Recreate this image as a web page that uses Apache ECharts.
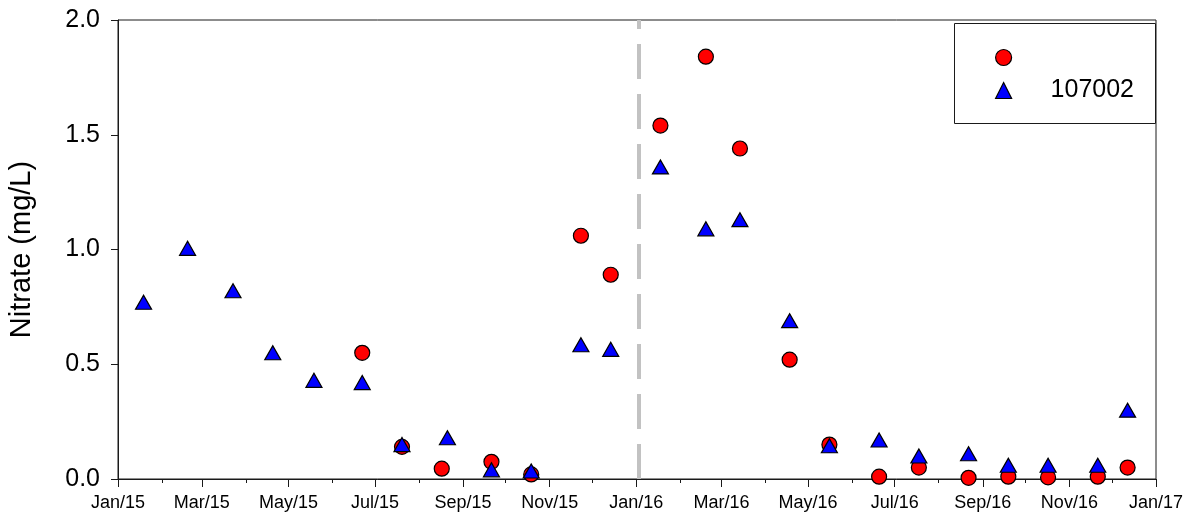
<!DOCTYPE html>
<html>
<head>
<meta charset="utf-8">
<script src="https://cdn.jsdelivr.net/npm/echarts@6/dist/echarts.min.js"></script>
<style>
  html, body { margin: 0; padding: 0; background: #ffffff; }
  #chart { width: 1187px; height: 516px; }
</style>
</head>
<body>
<div id="chart"></div>
<script>
// Nitrate samples, unnamed site (red circles)
const siteDates = [
  '2015-06-22', '2015-07-20', '2015-08-17', '2015-09-21', '2015-10-19',
  '2015-11-23', '2015-12-14', '2016-01-18', '2016-02-19', '2016-03-14',
  '2016-04-18', '2016-05-16', '2016-06-20', '2016-07-18', '2016-08-22',
  '2016-09-19', '2016-10-17', '2016-11-21', '2016-12-12'
];
const siteValues = [
  0.55, 0.14, 0.045, 0.075, 0.02,
  1.06, 0.89, 1.54, 1.84, 1.44,
  0.52, 0.15, 0.01, 0.05, 0.005,
  0.01, 0.007, 0.01, 0.05
];

// Nitrate samples, station 107002 (blue triangles)
const stationDates = [
  '2015-01-19', '2015-02-19', '2015-03-23', '2015-04-20', '2015-05-19',
  '2015-06-22', '2015-07-20', '2015-08-21', '2015-09-21', '2015-10-19',
  '2015-11-23', '2015-12-14', '2016-01-18', '2016-02-19', '2016-03-14',
  '2016-04-18', '2016-05-16', '2016-06-20', '2016-07-18', '2016-08-22',
  '2016-09-19', '2016-10-17', '2016-11-21', '2016-12-12'
];
const stationValues = [
  0.77, 1.005, 0.82, 0.55, 0.43,
  0.42, 0.15, 0.18, 0.04, 0.035,
  0.585, 0.565, 1.36, 1.09, 1.13,
  0.69, 0.145, 0.17, 0.10, 0.11,
  0.06, 0.06, 0.06, 0.30
];

const seriesNames = [' ', '107002'];

// Axis ticks and labels
const xTickDates = [
  '2015-01-01', '2015-03-01', '2015-05-01', '2015-07-01', '2015-09-01', '2015-11-01',
  '2016-01-01', '2016-03-01', '2016-05-01', '2016-07-01', '2016-09-01', '2016-11-01',
  '2017-01-01'
];
const xTickLabels = [
  'Jan/15', 'Mar/15', 'May/15', 'Jul/15', 'Sep/15', 'Nov/15',
  'Jan/16', 'Mar/16', 'May/16', 'Jul/16', 'Sep/16', 'Nov/16',
  'Jan/17'
];
const yTickValues = [0, 0.5, 1.0, 1.5, 2.0];
const yTickLabels = ['0.0', '0.5', '1.0', '1.5', '2.0'];

const dividerDate = '2016-01-03';

function toTime(s) {
  const p = s.split('-').map(Number);
  return new Date(p[0], p[1] - 1, p[2]).getTime();
}

const xMin = toTime(xTickDates[0]);
const xMax = toTime(xTickDates[xTickDates.length - 1]);
const majorTicks = xTickDates.map(toTime);
const labelByTime = {};
majorTicks.forEach((t, i) => { labelByTime[t] = xTickLabels[i]; });

// one minor tick on the first of every month
const minorTicks = [];
for (let y = 2015; y <= 2016; y++) {
  for (let m = 0; m < 12; m++) minorTicks.push(new Date(y, m, 1).getTime());
}
minorTicks.push(xMax);

const FONT = 'Liberation Sans, Arial, sans-serif';
const AXIS_COLOR = '#1a1a1a';

const chart = echarts.init(document.getElementById('chart'), null, { renderer: 'canvas' });

chart.setOption({
  animation: false,
  backgroundColor: '#ffffff',
  textStyle: { fontFamily: FONT },
  grid: {
    left: 118, right: 31, top: 20, bottom: 37,
    show: true, borderColor: AXIS_COLOR, borderWidth: 1,
    backgroundColor: 'transparent',
    outerBoundsMode: 'none'
  },
  legend: {
    orient: 'vertical',
    left: 995, top: 45,
    padding: 0,
    itemWidth: 16, itemHeight: 16, itemGap: 8,
    z: 20,
    selectedMode: false,
    textStyle: {
      fontFamily: FONT, fontSize: 25, color: '#000',
      lineHeight: 16, padding: [0, 0, 0, 34]
    },
    data: [
      { name: seriesNames[0], icon: 'circle',
        itemStyle: { color: '#ff0000', borderColor: '#000', borderWidth: 1.2 } },
      { name: seriesNames[1], icon: 'triangle',
        itemStyle: { color: '#0000ff', borderColor: '#000', borderWidth: 1.2 } }
    ]
  },
  graphic: [{
    type: 'rect',
    z: 10,
    shape: { x: 954.5, y: 23.5, width: 201, height: 100 },
    style: { fill: '#ffffff', stroke: AXIS_COLOR, lineWidth: 1 }
  }],
  xAxis: [{
    type: 'value',
    min: xMin, max: xMax,
    position: 'bottom',
    axisLine: { show: true, lineStyle: { color: AXIS_COLOR, width: 1 } },
    axisTick: { show: true, length: 8, inside: false, customValues: majorTicks,
      lineStyle: { color: AXIS_COLOR, width: 1 } },
    axisLabel: {
      show: true, customValues: majorTicks, margin: 15,
      fontFamily: FONT, fontSize: 18, color: '#000',
      hideOverlap: false, showMinLabel: true, showMaxLabel: true,
      formatter: (v) => labelByTime[v] || ''
    },
    splitLine: { show: false }
  }, {
    type: 'value',
    min: xMin, max: xMax,
    position: 'bottom',
    axisLine: { show: false },
    axisTick: { show: true, length: 4, inside: false, customValues: minorTicks,
      lineStyle: { color: AXIS_COLOR, width: 1 } },
    axisLabel: { show: false },
    splitLine: { show: false }
  }],
  yAxis: {
    type: 'value',
    min: 0, max: 2, interval: 0.5,
    name: 'Nitrate (mg/L)',
    nameLocation: 'middle',
    nameGap: 82,
    nameMoveOverlap: false,
    nameTextStyle: { fontFamily: FONT, fontSize: 29, color: '#000' },
    axisLine: { show: true, lineStyle: { color: AXIS_COLOR, width: 1 } },
    axisTick: { show: true, length: 7, inside: false, lineStyle: { color: AXIS_COLOR, width: 1 } },
    axisLabel: {
      margin: 18, fontFamily: FONT, fontSize: 25, color: '#000',
      formatter: (v) => {
        const i = yTickValues.indexOf(v);
        return i >= 0 ? yTickLabels[i] : '';
      }
    },
    splitLine: { show: false }
  },
  series: [{
    name: seriesNames[0],
    type: 'scatter',
    xAxisIndex: 0,
    symbol: 'circle',
    symbolSize: 15,
    z: 3,
    itemStyle: { color: '#ff0000', borderColor: '#000', borderWidth: 1.2, opacity: 1 },
    data: siteDates.map((d, i) => [toTime(d), siteValues[i]]),
    markLine: {
      silent: true,
      symbol: ['none', 'none'],
      label: { show: false },
      lineStyle: { color: '#c2c2c2', width: 4, type: [35, 15], cap: 'butt' },
      data: [{ xAxis: toTime(dividerDate) }]
    }
  }, {
    name: seriesNames[1],
    type: 'scatter',
    xAxisIndex: 0,
    symbol: 'triangle',
    symbolSize: [16, 14],
    z: 4,
    itemStyle: { color: '#0000ff', borderColor: '#000', borderWidth: 1.2, opacity: 1 },
    data: stationDates.map((d, i) => [toTime(d), stationValues[i]])
  }]
});
</script>
</body>
</html>
